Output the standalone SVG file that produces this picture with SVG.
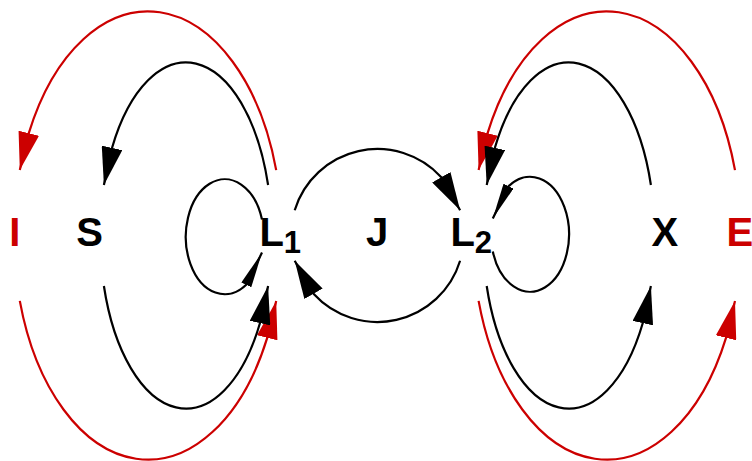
<svg xmlns="http://www.w3.org/2000/svg" width="752" height="461" viewBox="0 0 752 461">
  <style>
    .lbl { font-family: "Liberation Sans", Arial, sans-serif; font-weight: bold; font-size: 40px; }
    .blk { fill: #000000; }
    .red { fill: #cc0000; }
    .c { fill: none; stroke-width: 2.2; stroke-linecap: butt; }
    .cb { stroke: #000000; }
    .cr { stroke: #cc0000; }
    .ab { marker-end: url(#ah-b); }
    .ar { marker-end: url(#ah-r); }
    .at { marker-end: url(#ah-t); }
  </style>
  <defs>
    <marker id="ah-b" markerUnits="userSpaceOnUse" viewBox="0 0 38 21" markerWidth="38" markerHeight="21" refX="38" refY="10.5" orient="auto">
      <path d="M0,0 L38,10.5 L0,21 Z" fill="#000000"/>
    </marker>
    <marker id="ah-r" markerUnits="userSpaceOnUse" viewBox="0 0 38 21" markerWidth="38" markerHeight="21" refX="38" refY="10.5" orient="auto">
      <path d="M0,0 L38,10.5 L0,21 Z" fill="#cc0000"/>
    </marker>
    <marker id="ah-t" markerUnits="userSpaceOnUse" viewBox="0 0 36 11" markerWidth="36" markerHeight="11" refX="36" refY="5.5" orient="auto">
      <path d="M0,0 L36,5.5 L0,11 Z" fill="#000000"/>
    </marker>
  </defs>

  <g id="connectors">
    <!-- left side -->
    <path class="c cr ar" d="M276.2,170.1 A134,224 0 0 0 28.8,133.1 L19.8,170.1"/>
    <path class="c cr ar" d="M19.8,300.9 A134,224 0 0 0 267.2,337.9 L276.2,300.9"/>
    <path class="c cb ab" d="M268.1,185 A85.8,173 0 0 0 112,148 L103.9,185"/>
    <path class="c cb ab" d="M103.9,286 A85.8,173 0 0 0 260,323 L268.1,286"/>
    <path class="c cb at" d="M262,219.5 A39,57.5 0 1 0 246.5,284.5 L262,252.5"/>
    <!-- middle -->
    <path class="c cb ab" d="M294.7,210.2 A86.5,86.5 0 0 1 441.3,177.2 L460.1,210.2"/>
    <path class="c cb ab" d="M460.1,260.8 A86.5,86.5 0 0 1 313.5,293.8 L294.7,260.8"/>
    <!-- right side -->
    <path class="c cr ar" d="M735,170.1 A134,224 0 0 0 487.6,133.1 L478.6,170.1"/>
    <path class="c cr ar" d="M478.6,300.9 A134,224 0 0 0 726,337.9 L735,300.9"/>
    <path class="c cb ab" d="M650.9,185 A85.8,173 0 0 0 494.8,148 L486.7,185"/>
    <path class="c cb ab" d="M486.7,286 A85.8,173 0 0 0 642.8,323 L650.9,286"/>
    <path class="c cb at" d="M492.8,251.5 A39,57.5 0 1 0 508.3,186.5 L492.8,218.5"/>
  </g>

  <g id="I"><text class="lbl red" x="14.8" y="246" text-anchor="middle">I</text></g>
  <g id="S"><text class="lbl blk" x="89.7" y="246" text-anchor="middle">S</text></g>
  <g id="L1"><text class="lbl blk" x="259.4" y="246">L<tspan dy="7" font-size="31">1</tspan></text></g>
  <g id="J"><text class="lbl blk" x="377" y="246" text-anchor="middle">J</text></g>
  <g id="L2"><text class="lbl blk" x="450.4" y="246">L<tspan dy="7" font-size="31">2</tspan></text></g>
  <g id="X"><text class="lbl blk" x="664.8" y="246" text-anchor="middle">X</text></g>
  <g id="E"><text class="lbl red" x="726.4" y="246">E</text></g>
</svg>
